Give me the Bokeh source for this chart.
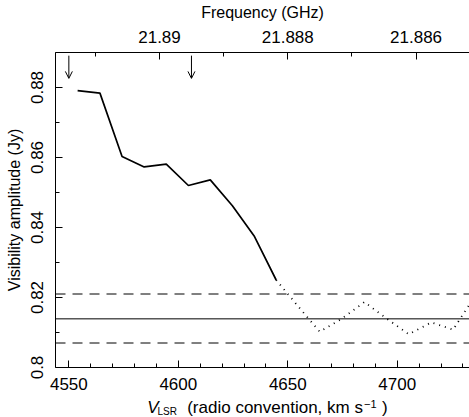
from bokeh.plotting import figure
from bokeh.layouts import column
from bokeh.models import (Range1d, LinearAxis, FixedTicker, PrintfTickFormatter,
                          Span, Label, Arrow, OpenHead, ColumnDataSource)
from bokeh.embed import file_html
from bokeh.resources import INLINE

# ---- data ----
velocity = [4554.0, 4564.2, 4574.3, 4584.4, 4594.5, 4604.6, 4614.6, 4624.7,
            4634.8, 4644.7, 4654.7, 4664.6, 4674.8, 4685.0, 4695.1, 4705.2,
            4715.6, 4725.5, 4735.6]
amplitude = [0.8791, 0.8784, 0.8603, 0.8573, 0.8581, 0.8520, 0.8536, 0.8462,
             0.8374, 0.8250, 0.8175, 0.8102, 0.8140, 0.8187, 0.8140, 0.8095,
             0.8129, 0.8108, 0.8205]
n_solid = 10                     # channels drawn as solid line
mean_level = 0.8139
upper_level = 0.8210
lower_level = 0.8070
arrow_velocity = [4550.0, 4606.0]

x_ticks = [4550, 4600, 4650, 4700]
x_minor = [4560, 4570, 4580, 4590, 4610, 4620, 4630, 4640, 4660, 4670,
           4680, 4690, 4710, 4720, 4730]
y_ticks = [0.80, 0.82, 0.84, 0.86, 0.88]
y_minor = [0.81, 0.83, 0.85, 0.87, 0.89]
freq_ticks = [21.886, 21.888, 21.890]
freq_minor = [21.885, 21.887, 21.889, 21.891]

# ---- ranges ----
v_lo, v_hi = 4543.9, 4733.0
a_lo, a_hi = 0.800, 0.890
f_ref_v, f_ref, f_slope = 4650.0, 21.888, 0.002 / 58.6   # GHz per km/s
f_lo = f_ref - (v_lo - f_ref_v) * f_slope
f_hi = f_ref - (v_hi - f_ref_v) * f_slope

FONT = "Liberation Sans"

p = figure(width=469, height=397, x_range=Range1d(v_lo, v_hi),
           y_range=Range1d(a_lo, a_hi), output_backend="svg",
           toolbar_location=None, min_border_left=55, min_border_right=0,
           min_border_top=52, min_border_bottom=30)
p.outline_line_color = None
p.grid.visible = False
p.background_fill_color = "white"
p.border_fill_color = "white"
p.extra_x_ranges = {"freq": Range1d(f_lo, f_hi)}

xa = p.below[0]
ya = p.left[0]
top = LinearAxis(x_range_name="freq")
p.add_layout(top, "above")


def style(ax, standoff):
    ax.axis_line_color = "black"
    ax.axis_line_width = 1
    ax.major_tick_line_color = "black"
    ax.minor_tick_line_color = "black"
    ax.major_tick_in = 7
    ax.major_tick_out = 0
    ax.minor_tick_in = 4
    ax.minor_tick_out = 0
    ax.major_label_text_font = FONT
    ax.major_label_text_font_size = "17px"
    ax.major_label_text_color = "black"
    ax.major_label_standoff = standoff
    ax.axis_label_text_font = FONT
    ax.axis_label_text_font_size = "16px"
    ax.axis_label_text_font_style = "normal"
    ax.axis_label_text_color = "black"


style(xa, 10)
style(ya, 13)
style(top, 10)
xa.ticker = FixedTicker(ticks=x_ticks, minor_ticks=x_minor)
ya.ticker = FixedTicker(ticks=y_ticks, minor_ticks=y_minor)
ya.formatter = PrintfTickFormatter(format="%.6g")
ya.major_label_orientation = "vertical"
ya.axis_label = "Visibility amplitude (Jy)"
ya.axis_label_standoff = 5
top.ticker = FixedTicker(ticks=freq_ticks, minor_ticks=freq_minor)
top.formatter = PrintfTickFormatter(format="%.6g")
top.axis_label = "Frequency (GHz)"
top.axis_label_standoff = 7

# ---- reference levels ----
p.add_layout(Span(location=mean_level, dimension="width", line_color="black",
                  line_width=1))
for lv in (upper_level, lower_level):
    p.add_layout(Span(location=lv, dimension="width", line_color="black",
                      line_width=1, line_dash="10 7"))

# ---- spectrum ----
p.line(velocity[:n_solid], amplitude[:n_solid], line_color="black",
       line_width=1.7)
p.line(velocity[n_solid - 1:], amplitude[n_solid - 1:], line_color="black",
       line_width=1.8, line_dash="1 5")

# ---- arrows ----
arr_src = ColumnDataSource(dict(x=arrow_velocity,
                                y0=[a_hi - 0.0009] * len(arrow_velocity),
                                y1=[a_hi - 0.0074] * len(arrow_velocity)))
p.add_layout(Arrow(source=arr_src, x_start="x", y_start="y0", x_end="x",
                   y_end="y1", line_color="black", line_width=1,
                   end=OpenHead(size=7, line_color="black", line_width=1)))

# ---- x-axis title strip (subscript / superscript pieces) ----
q = figure(width=469, height=20, x_range=p.x_range, y_range=Range1d(0, 1),
           output_backend="svg", toolbar_location=None,
           x_axis_location=None, y_axis_location=None,
           min_border_left=55, min_border_right=0, min_border_top=0,
           min_border_bottom=0)
q.outline_line_color = None
q.grid.visible = False
q.background_fill_color = "white"
q.border_fill_color = "white"

pieces = [("V", 91.7, 10, "17px", "italic"),
          ("LSR", 102.0, 6, "10px", "normal"),
          ("(radio convention, km s", 131.7, 10, "17px", "normal"),
          ("\u22121", 308.5, 14, "11px", "normal"),
          (")", 326.5, 10, "17px", "normal")]
for txt, xo, yo, fs, st in pieces:
    q.add_layout(Label(x=v_lo, y=0, x_offset=xo, y_offset=yo, text=txt,
                       text_align="left", text_baseline="alphabetic",
                       text_font=FONT, text_font_size=fs, text_font_style=st,
                       text_color="black"))

open("out.html", "w").write(file_html(column(p, q, spacing=0), INLINE))
